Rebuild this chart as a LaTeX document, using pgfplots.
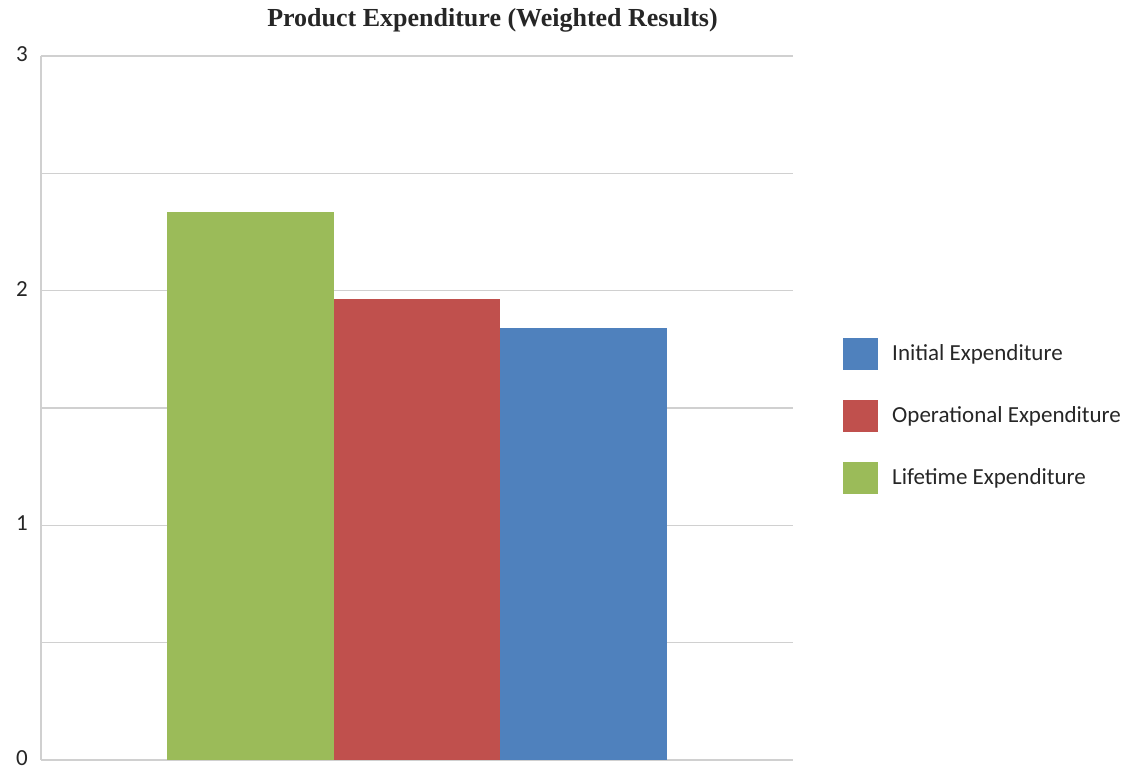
\documentclass[border=0pt]{standalone}
\usepackage{fontspec}
\setmainfont{Carlito}
\newfontfamily\titlefont{Liberation Serif}
\usepackage{pgfplots}
\pgfplotsset{compat=1.18}
\definecolor{cblue}{HTML}{4F81BD}
\definecolor{cred}{HTML}{C0504D}
\definecolor{cgreen}{HTML}{9BBB59}
\definecolor{gridc}{HTML}{D0D0D0}
\begin{document}
\begin{tikzpicture}[x=1pt,y=1pt]
\path[use as bounding box] (-41,-7) rectangle (1097,760);
\begin{axis}[
  at={(0,0)}, anchor=south west,
  scale only axis, width=752pt, height=704pt,
  xmin=-2.258, xmax=2.258, ymin=0, ymax=3,
  ybar, bar width=1,
  axis x line=bottom, axis y line=left,
  axis line style={draw=gridc, line width=1.2pt, -},
  xtick=\empty,
  ytick={0,0.5,1,1.5,2,2.5,3},
  yticklabels={0,,1,,2,,3},
  major tick length=0pt,
  ymajorgrids, grid style={draw=gridc, line width=1.2pt},
  tick label style={font=\fontsize{23}{27}\selectfont, text=black!85},
  yticklabel style={inner sep=1pt, xshift=-12pt, yshift=2pt},
  clip=false,
  legend style={at={(1.0625,0.603)}, anchor=north west, draw=none, fill=none,
    font=\fontsize{23}{27}\selectfont, row sep=30pt, text=black!85,
    /tikz/every even column/.append style={column sep=0pt}},
  legend cell align=left,
  legend image code/.code={\fill[#1] (0pt,-16pt) rectangle (35pt,16pt);},
]
\addplot[fill=cblue, draw=none, bar shift=1] coordinates {(0,1.843)};
\addlegendentry{\hspace{12pt}Initial Expenditure}
\addplot[fill=cred, draw=none, bar shift=0] coordinates {(0,1.966)};
\addlegendentry{\hspace{12pt}Operational Expenditure}
\addplot[fill=cgreen, draw=none, bar shift=-1] coordinates {(0,2.336)};
\addlegendentry{\hspace{12pt}Lifetime Expenditure}
\end{axis}
\node[font=\titlefont\bfseries\fontsize{26}{30}\selectfont, text=black!85] at (451.5,740) {Product Expenditure (Weighted Results)};
\end{tikzpicture}
\end{document}
